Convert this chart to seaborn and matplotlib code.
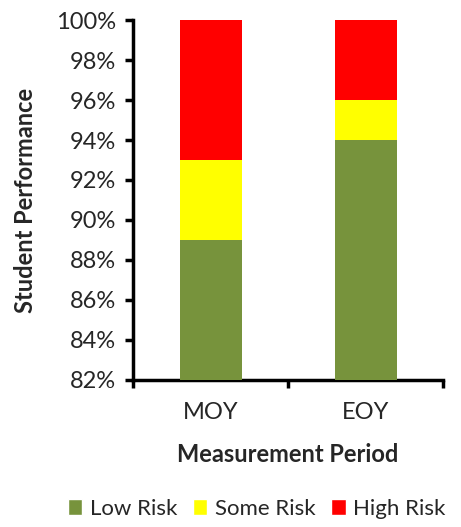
import numpy as np
import pandas as pd
import matplotlib
matplotlib.use("Agg")
import matplotlib.pyplot as plt
import seaborn as sns
from matplotlib.patches import Patch
from matplotlib.ticker import PercentFormatter

periods = ["MOY", "EOY"]
low_risk = [89, 94]
some_risk = [4, 2]
high_risk = [7, 4]

colors = {"Low Risk": "#77933C", "Some Risk": "#FFFF00", "High Risk": "#FF0000"}

sns.set_style("white")
plt.rcParams["font.family"] = ["Lato", "DejaVu Sans"]

df = pd.DataFrame({"period": periods, "low": low_risk, "some": some_risk, "high": high_risk})
df["top_some"] = df["low"] + df["some"]
df["top_high"] = df["top_some"] + df["high"]

fig = plt.figure(figsize=(4.61, 5.27), dpi=100)
ax = fig.add_axes([0.2885, 0.279, 0.6725, 0.683])

# stack by overdrawing cumulative totals
for col, name, z in [("top_high", "High Risk", 2), ("top_some", "Some Risk", 3), ("low", "Low Risk", 4)]:
    sns.barplot(data=df, x="period", y=col, color=colors[name], width=0.4,
                saturation=1, linewidth=0, ax=ax, zorder=z)

ax.set_ylim(82, 100)
ax.set_xlim(-0.5, 1.5)
ax.set_yticks(np.arange(82, 101, 2))
ax.yaxis.set_major_formatter(PercentFormatter(decimals=0))

# x ticks sit between categories, labels at category centres
ax.set_xticks([0, 1])
ax.set_xticklabels(periods)
ax.set_xticks([-0.5, 0.5, 1.5], minor=True)
ax.tick_params(axis="x", which="major", bottom=False, length=0, pad=16,
               labelsize=17, labelcolor="#262626")
ax.tick_params(axis="x", which="minor", bottom=True, length=6, width=2.5,
               direction="out", color="black")
ax.tick_params(axis="y", left=True, length=6, width=2.5, direction="out", labelsize=17,
               labelcolor="#262626", color="black", pad=6)

for s in ["top", "right"]:
    ax.spines[s].set_visible(False)
for s in ["left", "bottom"]:
    ax.spines[s].set_linewidth(2.5)
    ax.spines[s].set_color("black")

ax.set_xlabel("Measurement Period", fontsize=17, fontweight="bold", labelpad=14)
ax.set_ylabel("Student Performance", fontsize=17, fontweight="bold", labelpad=14)

handles = [Patch(facecolor=c, label=k) for k, c in colors.items()]
fig.legend(handles=handles, loc="lower center", bbox_to_anchor=(0.557, -0.022), ncol=3,
           frameon=False, fontsize=16, handlelength=0.65, handleheight=0.7,
           handletextpad=0.35, columnspacing=0.7, labelcolor="#262626")

fig.savefig("out.png", dpi=100)
